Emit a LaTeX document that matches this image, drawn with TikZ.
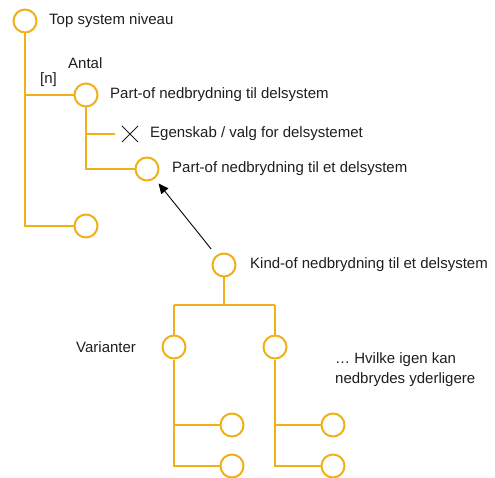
\documentclass[tikz,border=0pt]{standalone}
\usepackage{fontspec}
\setmainfont{Liberation Sans}
\usetikzlibrary{arrows.meta}
\definecolor{gul}{RGB}{240,176,24}
\definecolor{tekst}{RGB}{30,30,30}
\tikzset{
  niveau/.style={circle,draw=gul,line width=2pt,fill=white,minimum size=23pt,inner sep=0pt},
  gren/.style={draw=gul,line width=1.5pt},
  label/.style={font=\fontsize{15}{20}\selectfont,text=tekst,anchor=west,inner sep=0pt,align=left},
  pil/.style={draw=black,line width=0.9pt,-{Triangle[length=10pt,width=9pt]}}
}
\begin{document}
\begin{tikzpicture}[x=1pt,y=-1pt]
\useasboundingbox (0,0) rectangle (495,478);
% top niveau
\node[niveau] (top) at (25,21) {};
\node[label] (toptxt) at (49,21) {Top system niveau};
\node[niveau] (part1) at (86,95) {};
\node[niveau] (bund) at (86,226) {};
\coordinate (knaek1) at (25,95);
\coordinate (knaek2) at (25,226);
\draw[gren] (top) -- (knaek2) -- (bund);
\draw[gren] (knaek1) -- (part1);
\node[label] (antal) at (68,63) {Antal};
\node[label] (antaln) at (40,80) {[n]};
\node[label] (part1txt) at (110,95) {Part-of nedbrydning til delsystem};
% delsystem
\node[niveau] (part2) at (147,169) {};
\coordinate (knaek3) at (86,134);
\coordinate (knaek4) at (86,169);
\coordinate (egenend) at (115,134);
\draw[gren] (part1) -- (knaek4) -- (part2);
\draw[gren] (knaek3) -- (egenend);
\draw[tekst,line width=0.9pt] (122,126) -- (138,142) (122,142) -- (138,126);
\node[label] (egentxt) at (150,134) {Egenskab / valg for delsystemet};
\node[label] (part2txt) at (172,169) {Part-of nedbrydning til et delsystem};
% kind-of
\node[niveau] (kind) at (224,265) {};
\node[label] (kindtxt) at (250,265) {Kind-of nedbrydning til et delsystem};
\draw[pil,shorten <=8pt,shorten >=6pt] (kind) -- (part2);
\coordinate (delt) at (224,305);
\coordinate (deltv) at (174,305);
\coordinate (delth) at (275,305);
\node[niveau] (varv) at (174,347) {};
\node[niveau] (varh) at (275,347) {};
\draw[gren] (kind) -- (delt);
\draw[gren] (deltv) -- (delth);
\draw[gren] (deltv) -- (varv);
\draw[gren] (delth) -- (varh);
\node[label] (vartxt) at (76,347) {Varianter};
\node[label] (hvilke) at (335,370) {\dots\ Hvilke igen kan\\nedbrydes yderligere};
% underniveauer
\foreach \side/\x in {v/174,h/275} {
  \node[niveau] (sub\side1) at (\x+58,425) {};
  \node[niveau] (sub\side2) at (\x+58,466) {};
  \coordinate (k\side1) at (\x,425);
  \coordinate (k\side2) at (\x,466);
  \draw[gren] (var\side) -- (k\side2) -- (sub\side2);
  \draw[gren] (k\side1) -- (sub\side1);
}
\end{tikzpicture}
\end{document}
